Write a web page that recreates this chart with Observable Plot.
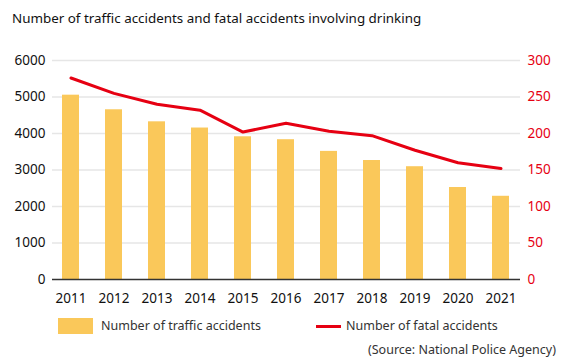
<!DOCTYPE html>
<html><head><meta charset="utf-8">
<script src="https://cdn.jsdelivr.net/npm/d3@7"></script>
<script src="https://cdn.jsdelivr.net/npm/@observablehq/plot@0.6"></script>
<style>
body{margin:0;background:#fff;font-family:"Noto Sans",sans-serif;width:565px;height:360px;position:relative;overflow:hidden}
#title{position:absolute;left:12px;top:9px;font-size:13.4px;color:#111;white-space:nowrap}
#chart{position:absolute;left:0;top:40px}
#chart svg{display:block}
.leg{position:absolute;font-size:12.5px;color:#333;white-space:nowrap}
#swA{position:absolute;left:58px;top:318px;width:35px;height:16px;background:#FAC85A}
#swB{position:absolute;left:316px;top:325px;width:25px;height:3px;background:#E60012}
</style></head>
<body>
<div id="title">Number of traffic accidents and fatal accidents involving drinking</div>
<div id="chart"></div>
<div id="swA"></div><div class="leg" style="left:101px;top:317px">Number of traffic accidents</div>
<div id="swB"></div><div class="leg" style="left:346px;top:317px">Number of fatal accidents</div>
<div class="leg" style="left:368px;top:341px">(Source: National Police Agency)</div>
<script>
const years = [2011,2012,2013,2014,2015,2016,2017,2018,2019,2020,2021];
const accidents = [5050,4650,4320,4150,3910,3830,3510,3260,3090,2520,2280];
const fatal = [276,255,240,232,202,214,203,197,177,160,152];
const leftTicks = [0,1000,2000,3000,4000,5000,6000];
const rightTicks = [0,50,100,150,200,250,300];
const ratio = 6000/300;

const data = years.map((y,i)=>({year:y, acc:accidents[i], fatal:fatal[i]}));

const chart = Plot.plot({
  width:565, height:274,
  marginTop:20, marginBottom:35, marginLeft:52, marginRight:45,
  style:{fontSize:"13.5px", fontFamily:"'Noto Sans',sans-serif", color:"#111", background:"#fff"},
  x:{type:"band", domain:years, paddingInner:0.6, paddingOuter:0.165},
  y:{domain:[0,6000]},
  marks:[
    Plot.gridY(leftTicks.filter(d=>d>0), {stroke:"#e6e6e6", strokeOpacity:1, strokeWidth:1.5}),
    Plot.barY(data, {x:"year", y:"acc", fill:"#FAC85A"}),
    Plot.ruleY([0], {stroke:"#333", strokeWidth:1.5}),
    Plot.lineY(data, {x:"year", y:d=>d.fatal*ratio, stroke:"#E60012", strokeWidth:3, strokeLinejoin:"round", curve:"linear"}),
    Plot.axisY(leftTicks, {anchor:"left", tickSize:0, tickPadding:7, tickFormat:d=>String(d), label:null, fill:"#111"}),
    Plot.axisY(rightTicks.map(v=>v*ratio), {anchor:"right", tickSize:0, tickPadding:7, tickFormat:d=>String(d/ratio), label:null, fill:"#E60012"}),
    Plot.axisX({tickSize:0, tickPadding:14, tickFormat:d=>String(d), label:null, fill:"#111"})
  ]
});
document.getElementById("chart").appendChild(chart);
</script>
</body></html>
